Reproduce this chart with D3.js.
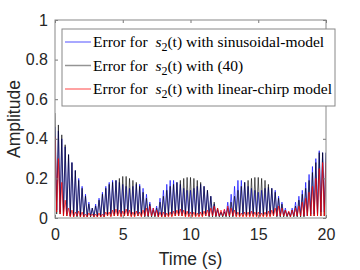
<!DOCTYPE html>
<html lang="en">
  <head>
    <meta charset="UTF-8">
    <title>Error amplitude</title>
    <style>
      body { margin: 0; background: #fff; }
      svg { display: block; }
    </style>
  </head>
  <body>
    <svg id="chart" width="360" height="270"></svg>

    <script src="https://d3js.org/d3.v7.min.js"></script>

    <script>
      // peak of every 0.25 s cycle, t = 0 .. 19.75
      var bluePeaks = [
        0.46, 0.44, 0.40, 0.36, 0.32, 0.28, 0.24, 0.20, 0.16, 0.12, 0.08, 0.05,
        0.07, 0.10, 0.13, 0.16, 0.18, 0.19, 0.19, 0.18, 0.17, 0.16, 0.15, 0.16,
        0.17, 0.17, 0.15, 0.12, 0.08, 0.05, 0.06, 0.10, 0.14, 0.17, 0.19, 0.19,
        0.18, 0.17, 0.15, 0.14, 0.14, 0.15, 0.16, 0.17, 0.16, 0.14, 0.11, 0.07,
        0.04, 0.03, 0.04, 0.08, 0.12, 0.16, 0.19, 0.19, 0.18, 0.16, 0.15, 0.14,
        0.13, 0.14, 0.15, 0.155, 0.15, 0.14, 0.11, 0.08, 0.05, 0.03, 0.05, 0.08,
        0.11, 0.14, 0.18, 0.22, 0.26, 0.30, 0.34, 0.33
      ];
      var blackPeaks = [
        0.53, 0.47, 0.42, 0.37, 0.32, 0.28, 0.24, 0.19, 0.15, 0.11, 0.07, 0.05,
        0.06, 0.09, 0.12, 0.15, 0.17, 0.18, 0.19, 0.20, 0.21, 0.21, 0.20, 0.19,
        0.18, 0.16, 0.13, 0.10, 0.07, 0.04, 0.05, 0.08, 0.11, 0.14, 0.16, 0.17,
        0.18, 0.19, 0.20, 0.205, 0.205, 0.20, 0.19, 0.18, 0.16, 0.14, 0.11, 0.08,
        0.05, 0.03, 0.03, 0.05, 0.08, 0.11, 0.14, 0.16, 0.18, 0.19, 0.20, 0.205,
        0.205, 0.20, 0.19, 0.17, 0.15, 0.13, 0.10, 0.07, 0.04, 0.03, 0.04, 0.06,
        0.09, 0.12, 0.15, 0.19, 0.23, 0.28, 0.33, 0.33
      ];
      var redPeaks = [
        0.41, 0.30, 0.18, 0.09, 0.05, 0.04, 0.03, 0.035, 0.03, 0.02, 0.025, 0.02,
        0.02, 0.025, 0.02, 0.03, 0.03, 0.04, 0.045, 0.04, 0.035, 0.045, 0.04, 0.03,
        0.035, 0.03, 0.04, 0.05, 0.06, 0.05, 0.04, 0.03, 0.03, 0.025, 0.03, 0.035,
        0.04, 0.045, 0.04, 0.035, 0.03, 0.03, 0.025, 0.03, 0.035, 0.04, 0.05, 0.06,
        0.05, 0.04, 0.045, 0.06, 0.05, 0.04, 0.03, 0.025, 0.03, 0.03, 0.035, 0.03,
        0.03, 0.025, 0.03, 0.035, 0.04, 0.05, 0.06, 0.05, 0.04, 0.035, 0.04, 0.05,
        0.06, 0.08, 0.10, 0.13, 0.16, 0.20, 0.25, 0.28
      ];
      // lowest value between two peaks
      var blueTroughs = [
        0.04, 0.03, 0.02, 0.02, 0.01, 0.01, 0.01, 0.01, 0.01, 0.01, 0.01, 0.01,
        0.01, 0.01, 0.01, 0.02, 0.02, 0.02, 0.02, 0.02, 0.02, 0.02, 0.02, 0.02,
        0.02, 0.02, 0.01, 0.01, 0.01, 0.01, 0.01, 0.01, 0.01, 0.02, 0.02, 0.02,
        0.02, 0.02, 0.02, 0.02, 0.02, 0.02, 0.02, 0.02, 0.02, 0.01, 0.01, 0.01,
        0.01, 0.01, 0.01, 0.01, 0.01, 0.02, 0.02, 0.02, 0.02, 0.02, 0.02, 0.02,
        0.02, 0.02, 0.02, 0.02, 0.02, 0.01, 0.01, 0.01, 0.01, 0.01, 0.01, 0.01,
        0.01, 0.01, 0.01, 0.02, 0.02, 0.02, 0.03, 0.03
      ];
      var blackTroughs = [
        0.02, 0.02, 0.01, 0.01, 0.01, 0.005, 0.005, 0.005, 0.005, 0.005, 0.005, 0.005,
        0.005, 0.005, 0.005, 0.01, 0.01, 0.01, 0.01, 0.01, 0.01, 0.01, 0.01, 0.01,
        0.01, 0.01, 0.005, 0.005, 0.005, 0.005, 0.005, 0.005, 0.005, 0.01, 0.01, 0.01,
        0.01, 0.01, 0.01, 0.01, 0.01, 0.01, 0.01, 0.01, 0.01, 0.005, 0.005, 0.005,
        0.005, 0.005, 0.005, 0.005, 0.005, 0.01, 0.01, 0.01, 0.01, 0.01, 0.01, 0.01,
        0.01, 0.01, 0.01, 0.01, 0.01, 0.005, 0.005, 0.005, 0.005, 0.005, 0.005, 0.005,
        0.005, 0.005, 0.01, 0.01, 0.01, 0.01, 0.01, 0.01
      ];
      var redTroughs = [
        0.03, 0.02, 0.01, 0.01, 0.005, 0.005, 0.01, 0.005, 0.005, 0.005, 0.01, 0.005,
        0.005, 0.005, 0.005, 0.01, 0.005, 0.01, 0.01, 0.005, 0.01, 0.01, 0.005, 0.005,
        0.01, 0.005, 0.01, 0.01, 0.01, 0.01, 0.005, 0.005, 0.005, 0.005, 0.005, 0.01,
        0.01, 0.01, 0.005, 0.005, 0.005, 0.005, 0.005, 0.005, 0.01, 0.01, 0.01, 0.01,
        0.01, 0.01, 0.01, 0.01, 0.01, 0.005, 0.005, 0.005, 0.005, 0.005, 0.005, 0.005,
        0.005, 0.005, 0.005, 0.005, 0.01, 0.01, 0.01, 0.01, 0.01, 0.005, 0.01, 0.01,
        0.01, 0.01, 0.01, 0.01, 0.01, 0.01, 0.01, 0.01
      ];
      var cycle = 0.25; // seconds between peaks

      var xTicks = [0, 5, 10, 15, 20];
      var yTicks = [0, 0.2, 0.4, 0.6, 0.8, 1];

      var series = [
        {name: "sinusoidal-model", peaks: bluePeaks, troughs: blueTroughs, color: "#0000ff", opacity: 0.65},
        {name: "(40)", peaks: blackPeaks, troughs: blackTroughs, color: "#000000", opacity: 0.6},
        {name: "linear-chirp model", peaks: redPeaks, troughs: redTroughs, color: "#ff0000", opacity: 0.7}
      ];

      var svg = d3.select("#chart"),
        margin = {left: 55, right: 34, top: 20, bottom: 52},
        width = 360 - margin.left - margin.right,
        height = 270 - margin.top - margin.bottom;

      var x = d3.scaleLinear().domain([0, 20]).range([0, width]);
      var y = d3.scaleLinear().domain([0, 1]).range([height, 0]);

      var g = svg.append("g").attr("transform", "translate(" + margin.left + "," + margin.top + ")");

      g.append("defs").append("clipPath").attr("id", "clip")
        .append("rect").attr("width", width).attr("height", height);

      // turn peaks / troughs into a zig-zag line
      function points(s) {
        var pts = [];
        s.peaks.forEach(function (p, i) {
          pts.push([i * cycle, p]);
          pts.push([i * cycle + cycle / 2, s.troughs[i]]);
        });
        pts.push([20, s.peaks[s.peaks.length - 1]]);
        return pts;
      }

      var line = d3.line()
        .x(function (d) { return x(d[0]); })
        .y(function (d) { return y(d[1]); });

      var plot = g.append("g").attr("clip-path", "url(#clip)");
      series.forEach(function (s) {
        plot.append("path")
          .attr("d", line(points(s)))
          .attr("fill", "none")
          .attr("stroke", s.color)
          .attr("stroke-opacity", s.opacity)
          .attr("stroke-width", 1);
      });

      // axes, matlab style: ticks inside, box all round
      var axisColor = "#262626";
      var tickFont = "'Liberation Sans', Arial, sans-serif";

      g.append("g").attr("transform", "translate(0," + height + ")")
        .call(d3.axisBottom(x).tickValues(xTicks).tickSizeInner(-3).tickSizeOuter(0).tickPadding(11));
      g.append("g")
        .call(d3.axisLeft(y).tickValues(yTicks).tickFormat(d3.format("~g")).tickSizeInner(-3).tickSizeOuter(0).tickPadding(7));
      g.append("g")
        .call(d3.axisTop(x).tickValues(xTicks).tickSizeInner(-3).tickSizeOuter(0).tickFormat(""));
      g.append("g").attr("transform", "translate(" + width + ",0)")
        .call(d3.axisRight(y).tickValues(yTicks).tickSizeInner(-3).tickSizeOuter(0).tickFormat(""));

      g.selectAll(".domain").remove();
      g.selectAll(".tick line").attr("stroke", "#777");
      g.selectAll(".tick text")
        .attr("fill", axisColor)
        .style("font-family", tickFont)
        .style("font-size", "16px");

      g.append("rect")
        .attr("width", width).attr("height", height)
        .attr("fill", "none").attr("stroke", "#888").attr("stroke-width", 1);

      svg.append("text")
        .attr("x", margin.left + width / 2).attr("y", 265)
        .attr("text-anchor", "middle")
        .attr("fill", axisColor)
        .style("font-family", tickFont).style("font-size", "17.5px")
        .text("Time (s)");

      svg.append("text")
        .attr("transform", "translate(20," + (margin.top + height / 2) + ") rotate(-90)")
        .attr("text-anchor", "middle")
        .attr("fill", axisColor)
        .style("font-family", tickFont).style("font-size", "17.5px")
        .text("Amplitude");

      // legend
      var legend = svg.append("g").attr("transform", "translate(62,29)");
      legend.append("rect")
        .attr("width", 273).attr("height", 77)
        .attr("fill", "#fff").attr("stroke", "#888").attr("stroke-width", 1);

      series.forEach(function (s, i) {
        var ly = 13 + i * 23.5;
        legend.append("line")
          .attr("x1", 3).attr("x2", 29).attr("y1", ly).attr("y2", ly)
          .attr("stroke", s.color).attr("stroke-opacity", s.opacity * 0.7).attr("stroke-width", 1.5);
        var t = legend.append("text")
          .attr("x", 31).attr("y", ly + 5)
          .attr("fill", "#000")
          .style("font-family", "'Liberation Serif', 'Times New Roman', serif")
          .style("font-size", "15.5px")
          .attr("xml:space", "preserve");
        t.append("tspan").text("Error for  ");
        t.append("tspan").style("font-style", "italic").text("s");
        t.append("tspan").attr("dy", 4).style("font-size", "12px").text("2");
        t.append("tspan").attr("dy", -4).text("(t) with " + s.name);
      });
    </script>
  </body>
</html>
